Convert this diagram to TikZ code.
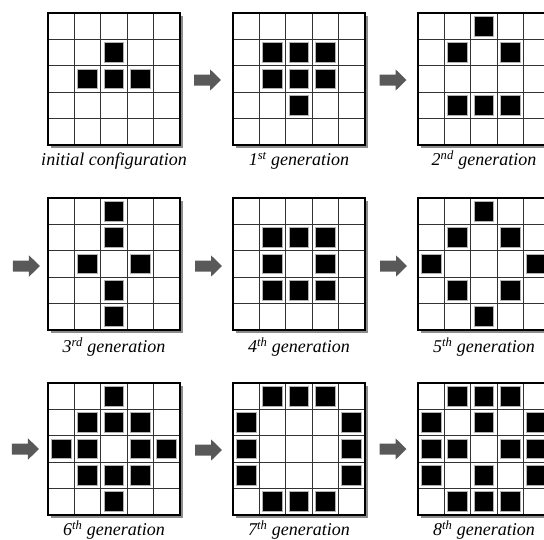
\documentclass[tikz,border=0pt]{standalone}
\usepackage{fontspec}
\setmainfont{Liberation Serif}
\usetikzlibrary{calc}
\tikzset{
  gridbox/.style={draw=black, line width=1.1pt, minimum size=132pt, inner sep=0pt},
  gridshadow/.style={fill=black!45},
  gridline/.style={draw=black!80, line width=0.9pt},
  cellon/.style={fill=black, draw=black!30, line width=0.9pt},
  blockarrow/.style={fill=black!65},
  lab/.style={font=\fontsize{18}{20}\selectfont\itshape, anchor=base, inner sep=0pt},
}
\newcommand\lifegrid[4]{%
  \fill[gridshadow] (#2+3,#3+3) rectangle (#2+135,#3+135);
  \fill[white] (#2,#3) rectangle (#2+132,#3+132);
  \foreach \k in {1,2,3,4} {
    \draw[gridline] (#2+\k*26.4,#3) -- (#2+\k*26.4,#3+132);
    \draw[gridline] (#2,#3+\k*26.4) -- (#2+132,#3+\k*26.4);
  }
  \foreach \r/\c in {#4} {
    \draw[cellon] (#2+\c*26.4+3.3,#3+\r*26.4+3.3) rectangle ++(19.8,19.8);
  }
  \node[gridbox] (#1) at (#2+66,#3+66) {};
}
\newcommand\lifearrow[1]{%
  \fill[blockarrow] ([shift={(-13.5,-5.5)}]#1) -- ([shift={(2.5,-5.5)}]#1)
    -- ([shift={(2.5,-10.7)}]#1) -- ([shift={(13.5,0)}]#1)
    -- ([shift={(2.5,10.7)}]#1) -- ([shift={(2.5,5.5)}]#1)
    -- ([shift={(-13.5,5.5)}]#1) -- cycle;
}
\begin{document}
\begin{tikzpicture}[x=1pt,y=-1pt]
\path[use as bounding box] (0,0) rectangle (544,539);
\clip (0,0) rectangle (544,539);
% row 1
\lifegrid{g0}{48}{13}{1/2,2/1,2/2,2/3}
\lifegrid{g1}{233}{13}{1/1,1/2,1/3,2/1,2/2,2/3,3/2}
\lifegrid{g2}{418}{13}{0/2,1/1,1/3,3/1,3/2,3/3}
% row 2
\lifegrid{g3}{48}{198}{0/2,1/2,2/1,2/3,3/2,4/2}
\lifegrid{g4}{233}{198}{1/1,1/2,1/3,2/1,2/3,3/1,3/2,3/3}
\lifegrid{g5}{418}{198}{0/2,1/1,1/3,2/0,2/4,3/1,3/3,4/2}
% row 3
\lifegrid{g6}{48}{383}{0/2,1/1,1/2,1/3,2/0,2/1,2/3,2/4,3/1,3/2,3/3,4/2}
\lifegrid{g7}{233}{383}{0/1,0/2,0/3,1/0,1/4,2/0,2/4,3/0,3/4,4/1,4/2,4/3}
\lifegrid{g8}{418}{383}{0/1,0/2,0/3,1/0,1/2,1/4,2/0,2/1,2/3,2/4,3/0,3/2,3/4,4/1,4/2,4/3}
% arrows
\coordinate (a1) at ($(g0.east)!0.5!(g1.west)+(1,1)$);
\coordinate (a2) at ($(g1.east)!0.5!(g2.west)+(1.5,1)$);
\coordinate (a3) at ($(g3.west)+(-21,2)$);
\coordinate (a4) at ($(g3.east)!0.5!(g4.west)+(2,2)$);
\coordinate (a5) at ($(g4.east)!0.5!(g5.west)+(2,2)$);
\coordinate (a6) at ($(g6.west)+(-22,0)$);
\coordinate (a7) at ($(g6.east)!0.5!(g7.west)+(2,1)$);
\coordinate (a8) at ($(g7.east)!0.5!(g8.west)+(1.5,0)$);
\foreach \a in {a1,a2,a3,a4,a5,a6,a7,a8} {\lifearrow{\a}}
% labels
\node[lab] (l0) at ($(g0.south)+(0,20)$) {initial configuration};
\node[lab] (l1) at ($(g1.south)+(0,20)$) {1\textsuperscript{st} generation};
\node[lab] (l2) at ($(g2.south)+(0,20)$) {2\textsuperscript{nd} generation};
\node[lab] (l3) at ($(g3.south)+(0,22)$) {3\textsuperscript{rd} generation};
\node[lab] (l4) at ($(g4.south)+(0,22)$) {4\textsuperscript{th} generation};
\node[lab] (l5) at ($(g5.south)+(0,22)$) {5\textsuperscript{th} generation};
\node[lab] (l6) at ($(g6.south)+(0,20)$) {6\textsuperscript{th} generation};
\node[lab] (l7) at ($(g7.south)+(0,20)$) {7\textsuperscript{th} generation};
\node[lab] (l8) at ($(g8.south)+(0,20)$) {8\textsuperscript{th} generation};
\end{tikzpicture}
\end{document}
